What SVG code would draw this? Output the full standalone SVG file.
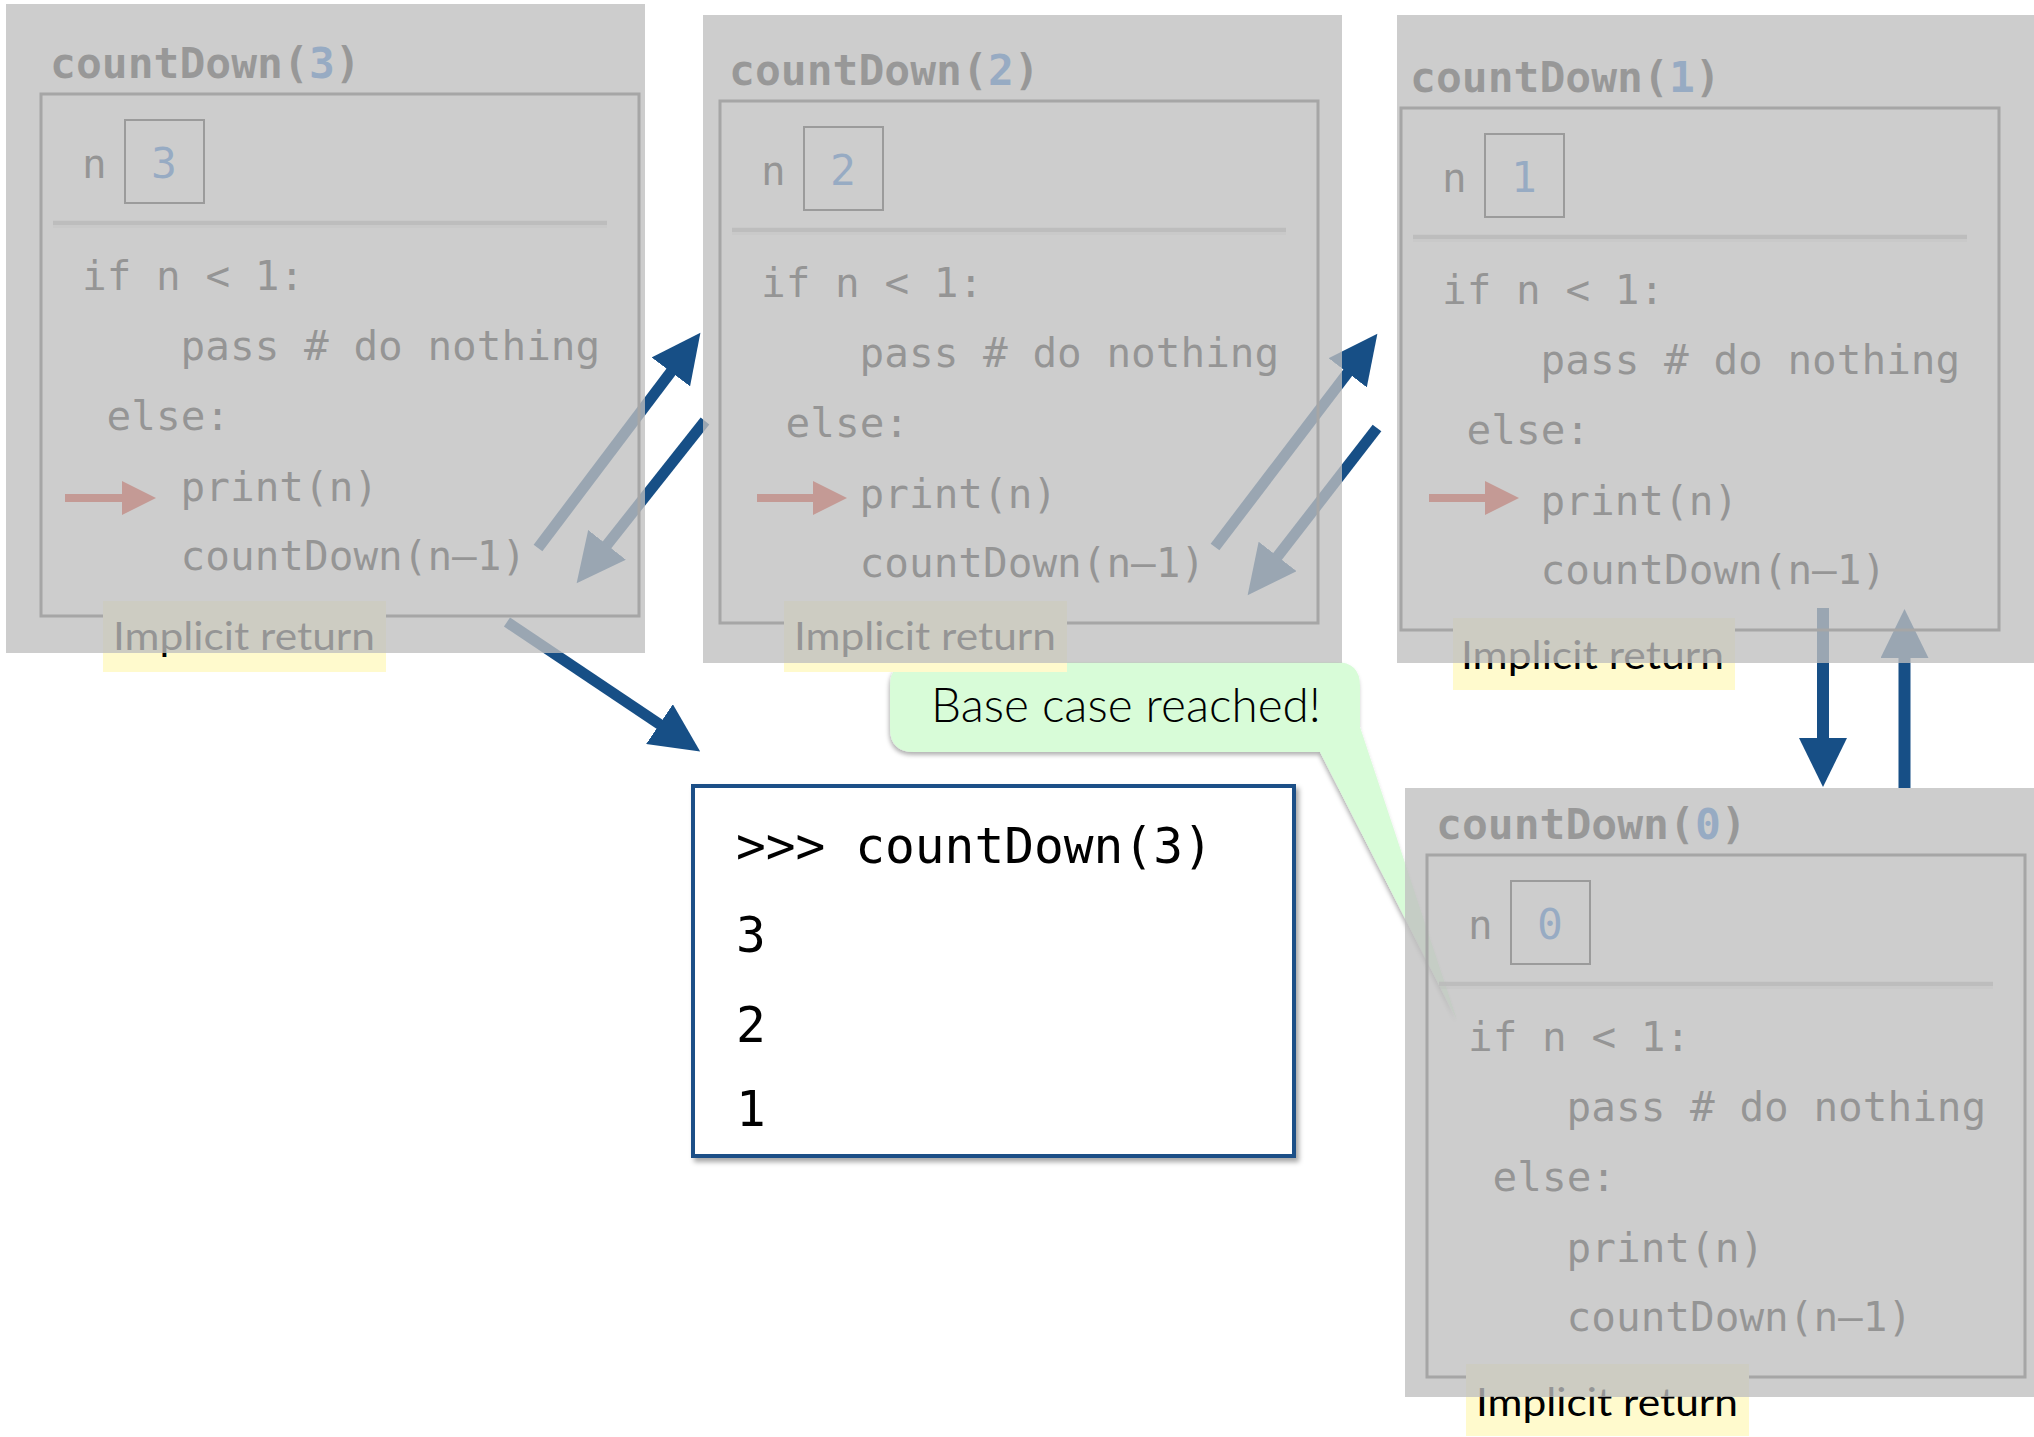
<svg xmlns="http://www.w3.org/2000/svg" width="2034" height="1437" viewBox="0 0 2034 1437">
  <style>
    .code { font-family: "DejaVu Sans Mono", "Liberation Mono", monospace; font-size: 41px; fill: #000; }
    .title { font-family: "DejaVu Sans Mono", "Liberation Mono", monospace; font-size: 43px; font-weight: bold; fill: #111; }
    .val { fill: #0a64d2; }
    .valnum { font-family: "DejaVu Sans Mono", "Liberation Mono", monospace; font-size: 43px; fill: #0a64d2; }
    .veil { fill: #bfbfbf; fill-opacity: 0.78; }
    .inner { fill: none; stroke: #4d4d4d; stroke-width: 3; }
    .vbox { fill: none; stroke: #1e1e1e; stroke-width: 2; }
    .sep { stroke: #aaaaaa; stroke-width: 4; stroke-opacity: 0.85; }
    .sep-glow { stroke: #aaaaaa; stroke-width: 8; stroke-opacity: 0.25; }
    .lbl-bg { fill: #fffacd; }
    .lbl { font-family: Lato, "Open Sans", sans-serif; font-size: 39px; fill: #000; }
    .pc { fill: #d61a00; }
    .pc-shaft { stroke: #d61a00; stroke-width: 8; }
    .flow { stroke: #174f86; stroke-width: 11; fill: none; marker-end: url(#head); }
    .flow-v { stroke: #174f86; stroke-width: 12; fill: none; marker-end: url(#head); }
    .out { font-family: "DejaVu Sans Mono", "Liberation Mono", monospace; font-size: 49.5px; fill: #000; }
    .note { font-family: Lato, "Open Sans", sans-serif; font-size: 48px; font-weight: 300; fill: #000; }
  </style>
  <defs>
    <marker id="head" markerUnits="userSpaceOnUse" markerWidth="50" markerHeight="48" refX="1" refY="24" orient="auto">
      <path d="M0,0 L49,24 L0,48 Z" fill="#174f86"/>
    </marker>
    <filter id="boxShadow" x="-5%" y="-5%" width="115%" height="115%">
      <feDropShadow dx="3" dy="4" stdDeviation="2.5" flood-color="#000" flood-opacity="0.35"/>
    </filter>
    <filter id="noteShadow" x="-5%" y="-10%" width="115%" height="130%">
      <feDropShadow dx="-1" dy="3" stdDeviation="2" flood-color="#000" flood-opacity="0.3"/>
    </filter>
    <!-- shared body of a countDown stack frame: variable box and source lines -->
    <g id="frame-body">
      <rect class="inner" x="41" y="94" width="598" height="522"/>
      <text class="code" x="82" y="178">n</text>
      <rect class="vbox" x="125" y="120" width="79" height="83"/>
      <line class="sep-glow" x1="53" y1="224" x2="607" y2="224"/>
      <line class="sep" x1="53" y1="223" x2="607" y2="223"/>
      <text class="code" x="82" y="290">if n &lt; 1:</text>
      <text class="code" x="180.6" y="360">pass # do nothing</text>
      <text class="code" x="106.6" y="430">else:</text>
      <text class="code" x="180.6" y="501">print(n)</text>
      <text class="code" x="180.6" y="570">countDown(n–1)</text>
    </g>
  </defs>

  <rect width="2034" height="1437" fill="#fff"/>

  <!-- call / return arrows between frames -->
  <g id="connectors">
    <line class="flow" x1="538" y1="548" x2="671.5" y2="371.1"/>
    <line class="flow" x1="705" y1="421" x2="606.4" y2="545.6"/>
    <line class="flow" x1="507" y1="622" x2="660.3" y2="724.7"/>
    <line class="flow" x1="1215" y1="547" x2="1348.3" y2="372"/>
    <line class="flow" x1="1377" y1="428" x2="1277" y2="557.2"/>
    <line class="flow-v" x1="1823" y1="608" x2="1823" y2="739"/>
    <line class="flow-v" x1="1904.5" y1="788" x2="1904.5" y2="657"/>
  </g>

  <!-- console output -->
  <g id="console">
    <rect x="693" y="786" width="601" height="370" fill="#fff" stroke="#1f4f87" stroke-width="4" filter="url(#boxShadow)"/>
    <text class="out" x="736" y="863">&gt;&gt;&gt; countDown(3)</text>
    <text class="out" x="736" y="952">3</text>
    <text class="out" x="736" y="1042">2</text>
    <text class="out" x="736" y="1126">1</text>
  </g>

  <!-- callout pointing at the base case -->
  <g id="base-case-note">
    <path d="M914,662 H1336 Q1360,662 1360,686 V727 L1457,1020 L1320,752 H914 Q890,752 890,728 V686 Q890,662 914,662 Z" fill="#d8fcd8" filter="url(#noteShadow)"/>
    <text class="note" x="931" y="722" textLength="390" lengthAdjust="spacingAndGlyphs">Base case reached!</text>
  </g>

  <!-- countDown(0) -->
  <g id="frame-0">
    <g transform="translate(1386,761)">
      <use href="#frame-body"/>
      <text class="title" x="50" y="78">countDown(<tspan class="val">0</tspan>)</text>
      <text class="valnum" x="164" y="178" text-anchor="middle">0</text>
    </g>
    <rect class="lbl-bg" x="1466" y="1364" width="283" height="72"/>
    <text class="lbl" x="1476" y="1416" textLength="262" lengthAdjust="spacingAndGlyphs">Implicit return</text>
    <rect class="veil" x="1405" y="788" width="629" height="609"/>
  </g>

  <!-- countDown(1) -->
  <g id="frame-1">
    <g transform="translate(1360,14)">
      <use href="#frame-body"/>
      <text class="title" x="50" y="78">countDown(<tspan class="val">1</tspan>)</text>
      <text class="valnum" x="164" y="178" text-anchor="middle">1</text>
    </g>
    <line class="pc-shaft" x1="1429" y1="498" x2="1487" y2="498"/>
    <path class="pc" d="M1485,481 L1519,498 L1485,515 Z"/>
    <rect class="lbl-bg" x="1453" y="618" width="282" height="72"/>
    <text class="lbl" x="1461" y="669" textLength="263" lengthAdjust="spacingAndGlyphs">Implicit return</text>
    <rect class="veil" x="1397" y="15" width="637" height="648"/>
  </g>

  <!-- countDown(2) -->
  <g id="frame-2">
    <g transform="translate(679,7)">
      <use href="#frame-body"/>
      <text class="title" x="50" y="78">countDown(<tspan class="val">2</tspan>)</text>
      <text class="valnum" x="164" y="178" text-anchor="middle">2</text>
    </g>
    <line class="pc-shaft" x1="757" y1="498" x2="815" y2="498"/>
    <path class="pc" d="M813,481 L847,498 L813,515 Z"/>
    <rect class="lbl-bg" x="784" y="601" width="283" height="71"/>
    <text class="lbl" x="794" y="650" textLength="262" lengthAdjust="spacingAndGlyphs">Implicit return</text>
    <rect class="veil" x="703" y="15" width="639" height="648"/>
  </g>

  <!-- countDown(3) -->
  <g id="frame-3">
    <use href="#frame-body"/>
    <text class="title" x="50" y="78">countDown(<tspan class="val">3</tspan>)</text>
    <text class="valnum" x="164" y="178" text-anchor="middle">3</text>
    <line class="pc-shaft" x1="65" y1="498" x2="124" y2="498"/>
    <path class="pc" d="M122,481 L156,498 L122,515 Z"/>
    <rect class="lbl-bg" x="103" y="601" width="283" height="71"/>
    <text class="lbl" x="113" y="650" textLength="262" lengthAdjust="spacingAndGlyphs">Implicit return</text>
    <rect class="veil" x="6" y="4" width="639" height="649"/>
  </g>
</svg>
